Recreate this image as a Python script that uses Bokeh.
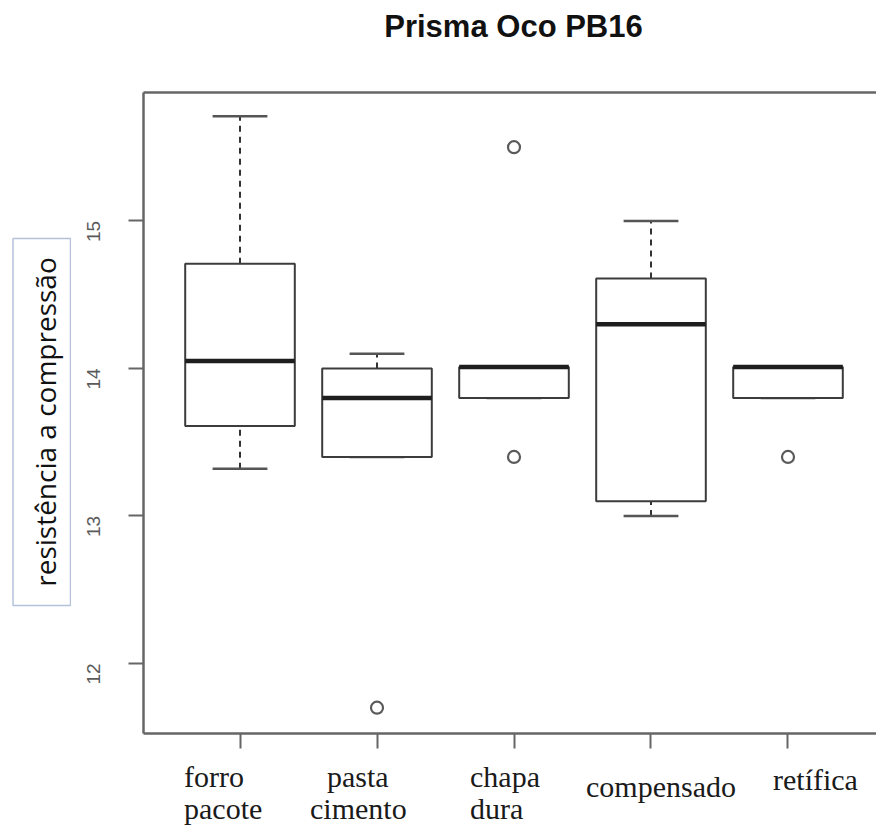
import math
from bokeh.plotting import figure
from bokeh.layouts import row, column
from bokeh.models import LinearAxis, FixedTicker, Range1d, ColumnDataSource
from bokeh.core.properties import value
from bokeh.embed import file_html
from bokeh.resources import INLINE

# ---------------- data ----------------
title_text = "Prisma Oco PB16"
ylabel_text = "resistência a compressão"
categories = ["forro pacote", "pasta cimento", "chapa dura", "compensado", "retífica"]
lower_whisker = [13.32, 13.40, 13.80, 13.00, 13.80]
q1 = [13.61, 13.40, 13.80, 13.10, 13.80]
median = [14.05, 13.80, 14.01, 14.30, 14.01]
q3 = [14.71, 14.00, 14.01, 14.61, 14.01]
upper_whisker = [15.71, 14.10, 14.01, 15.00, 14.01]
outlier_group = [2, 3, 3, 5]
outlier_value = [11.70, 15.50, 13.40, 13.40]
y_ticks = [12, 13, 14, 15]

# ---------------- style / layout ----------------
W, H = 876, 827
LEFT_W = 71            # strip holding the boxed y label
MAIN_BORDER_L = 72     # main figure left border (frame starts at x=143)
FRAME_L = LEFT_W + MAIN_BORDER_L
TOP_H = 82             # strip holding the title
MAIN_TOP = 10          # main border above frame (frame top at y=92)
FRAME_B = 733
MAIN_H = 755 - TOP_H   # main figure ends at y=755
BOX_W = 0.8
CAP_W = 0.4
label_dx = [[-56, -56], [-50, -67], [-44, -44], [-65], [-15]]
label_base = [[776, 808], [776, 808], [776, 808], [786], [779]]

idx = list(range(1, len(categories) + 1))
x_range = Range1d(0.2956, 5.646)
RIGHT_W = W - LEFT_W

# ---------------- main plot ----------------
p = figure(width=RIGHT_W, height=MAIN_H, output_backend="svg", toolbar_location=None,
           x_range=x_range, y_range=Range1d(11.525, 15.871),
           x_axis_type=None, y_axis_type=None,
           min_border_left=MAIN_BORDER_L, min_border_right=0,
           min_border_top=MAIN_TOP, min_border_bottom=755 - FRAME_B)
p.outline_line_color = None
p.background_fill_color = "white"
p.border_fill_color = "white"

axis_color = "#666666"

yax = LinearAxis(ticker=FixedTicker(ticks=y_ticks))
yax.axis_line_color = axis_color
yax.axis_line_width = 2.5
yax.major_tick_line_color = axis_color
yax.major_tick_line_width = 2
yax.major_tick_out = 15
yax.major_tick_in = 0
yax.minor_tick_out = 0
yax.minor_tick_in = 0
yax.major_label_orientation = math.pi / 2
yax.major_label_standoff = 35
yax.major_label_text_font = "Liberation Sans"
yax.major_label_text_font_size = "19px"
yax.major_label_text_color = "#5a5a5a"
p.add_layout(yax, "left")

xax = LinearAxis(ticker=FixedTicker(ticks=idx))
xax.axis_line_color = axis_color
xax.axis_line_width = 2.5
xax.major_tick_line_color = axis_color
xax.major_tick_line_width = 2
xax.major_tick_out = 15
xax.major_tick_in = 0
xax.minor_tick_out = 0
xax.minor_tick_in = 0
xax.major_label_standoff = 0
xax.major_label_text_font_size = "0px"
xax.major_label_overrides = {i: "" for i in idx}
p.add_layout(xax, "below")

tax = LinearAxis(ticker=FixedTicker(ticks=[]))
tax.axis_line_color = axis_color
tax.axis_line_width = 2.5
tax.major_tick_out = 0
tax.major_tick_in = 0
tax.minor_tick_out = 0
tax.minor_tick_in = 0
tax.major_label_standoff = 0
tax.major_label_text_font_size = "0px"
p.add_layout(tax, "above")

src = ColumnDataSource(dict(x=idx, lw=lower_whisker, q1=q1, med=median, q3=q3, uw=upper_whisker,
                            xl=[i - BOX_W / 2 for i in idx], xr=[i + BOX_W / 2 for i in idx],
                            cl=[i - CAP_W / 2 for i in idx], cr=[i + CAP_W / 2 for i in idx]))

p.segment(x0="x", y0="q3", x1="x", y1="uw", source=src, line_color="#333333",
          line_width=2, line_dash="6 5")
p.segment(x0="x", y0="lw", x1="x", y1="q1", source=src, line_color="#333333",
          line_width=2, line_dash="6 5")
p.segment(x0="cl", y0="uw", x1="cr", y1="uw", source=src, line_color="#555555", line_width=2.5)
p.segment(x0="cl", y0="lw", x1="cr", y1="lw", source=src, line_color="#555555", line_width=2.5)
p.vbar(x="x", width=BOX_W, bottom="q1", top="q3", source=src, fill_color="white",
       line_color="#3c3c3c", line_width=2)
p.segment(x0="xl", y0="med", x1="xr", y1="med", source=src, line_color="#1e1e1e", line_width=4.5)
p.scatter(x=outlier_group, y=outlier_value, size=12, marker="circle", fill_color=None,
          line_color="#5a5a5a", line_width=2.2)

# ---------------- title strip (frame aligned with main frame) ----------------
t = figure(width=RIGHT_W, height=TOP_H, output_backend="svg", toolbar_location=None,
           x_range=Range1d(FRAME_L, W), y_range=Range1d(TOP_H, 0),
           x_axis_type=None, y_axis_type=None,
           min_border_left=MAIN_BORDER_L, min_border_right=0,
           min_border_top=0, min_border_bottom=0)
t.outline_line_color = None
t.grid.visible = False
t.text(x=[513], y=[26], text=[title_text], text_align="center", text_baseline="alphabetic",
       text_font=value("Liberation Sans"), text_font_style="bold", text_font_size="31px",
       text_color="#111111")

# ---------------- category labels strip (shares x range) ----------------
BOT_H = H - 755
b = figure(width=RIGHT_W, height=BOT_H, output_backend="svg", toolbar_location=None,
           x_range=x_range, y_range=Range1d(BOT_H, 0),
           x_axis_type=None, y_axis_type=None,
           min_border_left=MAIN_BORDER_L, min_border_right=0,
           min_border_top=0, min_border_bottom=0)
b.outline_line_color = None
b.grid.visible = False
lx, ly, lt, ldx = [], [], [], []
for i, cat in enumerate(categories):
    for j, w in enumerate(cat.split(" ")):
        lx.append(idx[i])
        ly.append(label_base[i][j] - 755)
        lt.append(w)
        ldx.append(label_dx[i][j])
b.text(x=lx, y=ly, text=lt, x_offset=ldx, text_align="left", text_baseline="alphabetic",
       text_font=value("Liberation Serif"), text_font_size="30px", text_color="#1a1a1a")

# ---------------- boxed y label strip ----------------
l = figure(width=LEFT_W, height=H, output_backend="svg", toolbar_location=None,
           x_range=Range1d(0, LEFT_W), y_range=Range1d(H, 0),
           x_axis_type=None, y_axis_type=None,
           min_border_left=0, min_border_right=0, min_border_top=0, min_border_bottom=0)
l.outline_line_color = None
l.grid.visible = False
l.quad(left=[12.5], right=[70], top=[238], bottom=[605], fill_color="white",
       line_color="#b4c2da", line_width=1.5)
l.text(x=[44], y=[421.5], text=[ylabel_text], angle=math.pi / 2, text_align="center",
       text_baseline="middle", text_font=value("Open Sans"), text_font_size="28px",
       text_color="#111111")

layout = row(l, column(t, p, b))
open("out.html", "w").write(file_html(layout, INLINE))
